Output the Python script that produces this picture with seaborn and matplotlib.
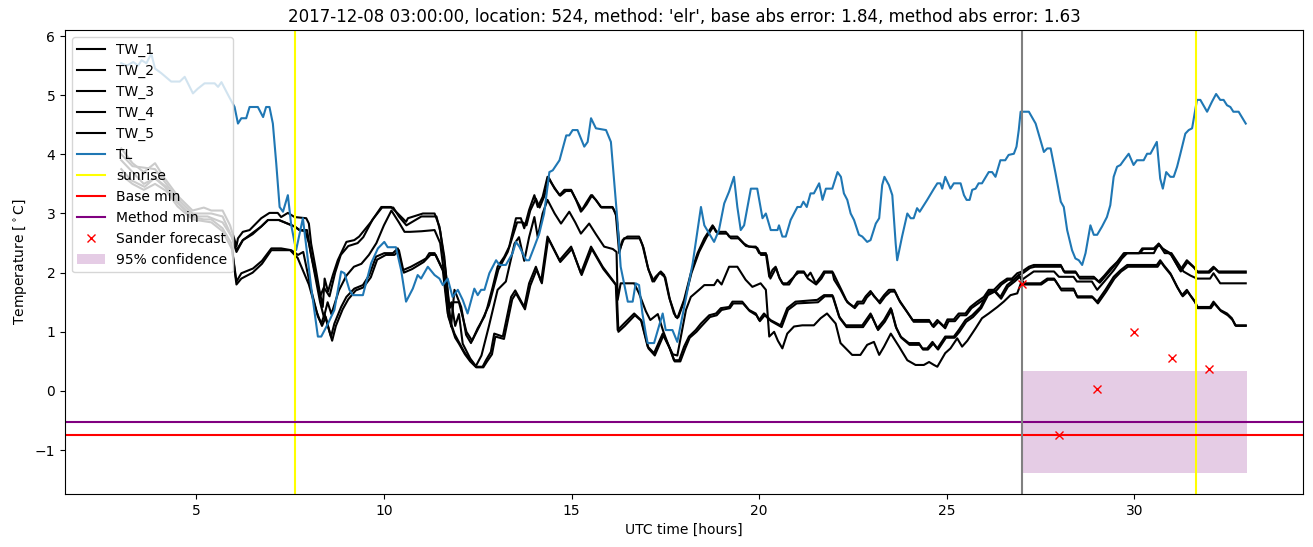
import numpy as np
import pandas as pd
import matplotlib
matplotlib.use("Agg")
import matplotlib.pyplot as plt
import seaborn as sns

TITLE = "2017-12-08 03:00:00, location: 524, method: 'elr', base abs error: 1.84, method abs error: 1.63"

# ---- TL (air temperature) ----
tl_x = [3.0, 3.15, 3.32, 3.45, 3.54, 3.67, 3.80, 3.9, 4.07, 4.2, 4.33, 4.56, 4.69, 4.91, 5.04, 5.22, 5.49, 5.58, 5.67, 5.85,
        6.02, 6.11, 6.20, 6.33, 6.42, 6.64, 6.78, 6.86, 6.95, 7.04, 7.13, 7.22, 7.31, 7.44, 7.53, 7.66, 7.84, 7.93, 8.06, 8.24,
        8.33, 8.51, 8.68, 8.86, 8.95, 9.08, 9.17, 9.44, 9.66, 9.84, 10.01, 10.10, 10.32, 10.46, 10.59, 10.77, 10.90, 10.99, 11.17, 11.35,
        11.48, 11.57, 11.70, 11.83, 11.97, 12.10, 12.23, 12.41, 12.50, 12.59, 12.68, 12.81, 12.99, 13.08, 13.25, 13.43, 13.52, 13.61, 13.79, 13.87,
        14.01, 14.14, 14.27, 14.41, 14.50, 14.68, 14.86, 14.94, 15.03, 15.16, 15.34, 15.43, 15.52, 15.65, 15.92, 16.05, 16.23, 16.31, 16.50, 16.63,
        16.71, 16.80, 16.89, 16.98, 17.03, 17.20, 17.43, 17.51, 17.69, 17.82, 18.05, 18.23, 18.45, 18.54, 18.67, 18.80, 18.93, 19.07, 19.20, 19.33,
        19.42, 19.51, 19.60, 19.78, 19.95, 20.09, 20.18, 20.31, 20.49, 20.53, 20.62, 20.71, 20.84, 21.02, 21.11, 21.18, 21.27, 21.37, 21.46, 21.60,
        21.69, 21.78, 21.95, 22.09, 22.18, 22.26, 22.35, 22.44, 22.53, 22.66, 22.75, 22.88, 22.97, 23.11, 23.20, 23.28, 23.34, 23.46, 23.55, 23.64,
        23.68, 23.81, 23.95, 24.04, 24.12, 24.21, 24.28, 24.48, 24.66, 24.75, 24.83, 24.88, 24.96, 25.10, 25.19, 25.37, 25.46, 25.53, 25.61, 25.68,
        25.77, 25.85, 25.94, 26.12, 26.21, 26.30, 26.43, 26.56, 26.65, 26.79, 26.86, 26.92, 26.97, 27.19, 27.37, 27.50, 27.59, 27.68, 27.77, 27.90,
        28.04, 28.12, 28.21, 28.34, 28.43, 28.52, 28.61, 28.70, 28.83, 28.92, 29.01, 29.14, 29.27, 29.36, 29.45, 29.54, 29.63, 29.72, 29.85, 29.98,
        30.07, 30.25, 30.34, 30.43, 30.60, 30.69, 30.76, 30.85, 30.96, 31.05, 31.14, 31.22, 31.36, 31.45, 31.54, 31.67, 31.76, 31.94, 32.07, 32.18,
        32.29, 32.38, 32.47, 32.56, 32.64, 32.78, 32.97]
tl_y = [5.54, 5.50, 5.56, 5.50, 5.59, 5.54, 5.70, 5.45, 5.37, 5.30, 5.23, 5.23, 5.31, 5.03, 5.11, 5.20, 5.20, 5.14, 5.22, 5.00,
        4.80, 4.52, 4.61, 4.61, 4.80, 4.80, 4.63, 4.80, 4.80, 4.52, 3.85, 3.11, 3.03, 3.31, 2.80, 2.38, 2.92, 2.44, 1.76, 0.92,
        0.92, 1.14, 1.37, 2.02, 1.99, 1.71, 1.62, 1.62, 2.16, 2.41, 2.52, 2.43, 2.43, 2.04, 1.51, 1.73, 1.96, 1.90, 2.10, 1.96,
        1.90, 1.79, 1.90, 1.59, 1.71, 1.54, 1.31, 1.73, 1.62, 1.71, 1.71, 1.99, 2.21, 2.13, 2.13, 2.33, 2.52, 2.44, 2.21, 2.21,
        2.44, 2.66, 3.00, 3.70, 3.73, 3.90, 4.32, 4.32, 4.41, 4.41, 4.13, 4.21, 4.61, 4.44, 4.41, 4.21, 2.83, 2.10, 1.51, 1.51,
        1.82, 1.79, 1.31, 0.97, 0.81, 0.81, 1.31, 1.03, 1.03, 0.83, 1.57, 2.16, 3.11, 2.80, 2.66, 2.52, 2.72, 3.17, 3.37, 3.62,
        3.11, 2.72, 2.80, 3.42, 3.42, 2.92, 3.00, 2.72, 2.72, 2.80, 2.61, 2.61, 2.89, 3.11, 3.11, 3.20, 3.11, 3.34, 3.34, 3.51,
        3.23, 3.42, 3.42, 3.70, 3.62, 3.34, 3.23, 3.00, 2.89, 2.64, 2.61, 2.52, 2.55, 2.83, 2.92, 3.48, 3.62, 3.48, 3.31, 2.49,
        2.21, 2.61, 3.00, 2.92, 2.92, 3.09, 3.03, 3.23, 3.42, 3.51, 3.51, 3.42, 3.62, 3.42, 3.51, 3.51, 3.31, 3.23, 3.23, 3.40,
        3.42, 3.51, 3.51, 3.70, 3.70, 3.62, 3.90, 3.90, 3.99, 4.01, 4.13, 4.41, 4.72, 4.72, 4.52, 4.24, 4.04, 4.10, 4.10, 3.68,
        3.20, 3.11, 2.72, 2.38, 2.24, 2.21, 2.13, 2.33, 2.80, 2.64, 2.64, 2.78, 2.94, 3.14, 3.62, 3.79, 3.82, 3.90, 4.01, 3.82,
        3.90, 3.90, 4.01, 4.01, 4.21, 3.59, 3.42, 3.70, 3.62, 3.62, 3.79, 3.99, 4.35, 4.41, 4.44, 4.92, 4.92, 4.72, 4.89, 5.02,
        4.92, 4.92, 4.83, 4.80, 4.72, 4.72, 4.52]

# ---- TW_1 ----
tw1_x = [3.0, 3.3, 3.6, 3.9, 4.15, 4.5, 4.9, 5.2, 5.4, 5.7, 5.9, 6.07, 6.11, 6.24, 6.42, 6.73, 6.95, 7.17, 7.26, 7.44,
         7.62, 7.93, 8.0, 8.06, 8.19, 8.28, 8.37, 8.42, 8.51, 8.64, 8.77, 9.0, 9.21, 9.34, 9.66, 9.93, 10.19, 10.37, 10.59, 10.64,
         11.04, 11.35, 11.48, 11.61, 11.70, 11.79, 11.88, 12.06, 12.19, 12.32, 12.50, 12.68, 12.76, 12.90, 13.03, 13.21, 13.34, 13.52, 13.65, 13.74,
         13.87, 14.01, 14.10, 14.23, 14.36, 14.50, 14.68, 14.81, 14.99, 15.12, 15.25, 15.38, 15.52, 15.65, 15.78, 16.09, 16.18, 16.27, 16.36, 16.49,
         16.80, 16.89, 17.03, 17.16, 17.24, 17.38, 17.47, 17.60, 17.73, 17.82, 18.0, 18.18, 18.36, 18.54, 18.76, 18.85, 19.11, 19.20, 19.42, 19.60,
         19.73, 19.91, 20.0, 20.18, 20.27, 20.36, 20.44, 20.53, 20.62, 20.75, 20.93, 21.02, 21.19, 21.28, 21.37, 21.51, 21.64, 21.73, 21.95, 22.0,
         22.17, 22.31, 22.40, 22.53, 22.62, 22.75, 22.84, 22.97, 23.06, 23.20, 23.33, 23.46, 23.60, 23.73, 23.91, 24.09, 24.53, 24.62, 24.75, 24.93,
         25.02, 25.19, 25.32, 25.50, 25.63, 25.81, 25.99, 26.12, 26.26, 26.43, 26.61, 26.74, 26.88, 27.01, 27.19, 27.32, 28.04, 28.12, 28.43, 28.52,
         28.92, 29.05, 29.2, 29.36, 29.54, 29.72, 30.12, 30.21, 30.52, 30.65, 30.74, 30.96, 31.22, 31.40, 31.58, 31.67, 31.98, 32.11, 32.24, 32.97]
tw1_y = [4.10, 3.85, 3.70, 3.85, 3.60, 3.30, 3.05, 3.10, 3.05, 3.05, 2.80, 2.45, 2.58, 2.69, 2.72, 2.92, 3.01, 3.01, 2.94, 3.01,
         2.94, 2.92, 2.83, 2.49, 2.04, 1.71, 1.42, 1.90, 1.68, 1.96, 2.21, 2.52, 2.55, 2.61, 2.86, 3.11, 3.11, 3.00, 2.86, 2.92,
         3.00, 3.00, 2.78, 2.27, 1.65, 1.09, 1.71, 1.42, 0.95, 0.81, 1.06, 1.26, 1.42, 1.76, 2.10, 2.27, 2.44, 2.92, 2.92, 2.75,
         3.06, 3.31, 3.11, 3.28, 3.62, 3.48, 3.31, 3.40, 3.40, 3.23, 3.03, 3.17, 3.31, 3.23, 3.11, 3.11, 3.00, 2.33, 2.55, 2.61,
         2.61, 2.47, 2.10, 1.85, 1.93, 2.02, 1.96, 1.59, 1.31, 1.23, 1.54, 1.99, 2.33, 2.58, 2.80, 2.69, 2.69, 2.61, 2.61, 2.49,
         2.44, 2.44, 2.33, 2.33, 1.93, 2.05, 2.10, 1.93, 1.82, 1.82, 1.93, 2.02, 2.02, 1.93, 2.00, 1.82, 1.93, 2.02, 2.02, 1.88,
         1.71, 1.54, 1.48, 1.42, 1.51, 1.51, 1.60, 1.69, 1.60, 1.51, 1.62, 1.71, 1.71, 1.54, 1.37, 1.20, 1.20, 1.10, 1.20, 1.09,
         1.21, 1.21, 1.31, 1.31, 1.42, 1.51, 1.59, 1.71, 1.71, 1.82, 1.90, 1.90, 1.99, 2.02, 2.10, 2.13, 2.13, 2.02, 2.02, 1.93,
         1.93, 1.85, 1.95, 2.07, 2.18, 2.33, 2.33, 2.41, 2.41, 2.49, 2.41, 2.33, 2.04, 2.21, 2.10, 2.02, 2.02, 2.10, 2.02, 2.02]

# ---- TW_2 ----
tw2_x = [3.0, 3.3, 3.9, 4.5, 4.9, 5.4, 5.7, 5.95, 6.07, 6.24, 6.73, 6.91, 7.2, 7.62, 7.75, 7.95, 8.06, 8.2, 8.3, 8.4,
         8.55, 8.7, 8.85, 9.05, 9.3, 9.45, 9.7, 9.95, 10.25, 10.4, 10.6, 11.0, 11.4, 11.5, 11.65, 11.75, 11.85, 12.0, 12.2, 12.35,
         12.55, 12.8, 13.05, 13.3, 13.55, 13.7, 13.8, 13.9, 14.05, 14.15, 14.28, 14.4, 14.55, 14.7, 14.85, 15.0, 15.15, 15.28, 15.4, 15.55,
         15.68, 15.8, 16.1, 16.2, 16.29, 16.4, 16.5, 16.82, 16.92, 17.05, 17.2, 17.35, 17.5, 17.62, 17.78, 17.85, 18.02, 18.2, 18.4, 18.6,
         18.78, 18.9, 19.15, 19.25, 19.45, 19.65, 19.95, 20.05, 20.2, 20.3, 20.45, 20.55, 20.65, 20.8, 20.95, 21.05, 21.2, 21.3, 21.52, 21.66,
         21.75, 21.97, 22.2, 22.35, 22.55, 22.65, 22.78, 22.87, 23.0, 23.1, 23.22, 23.36, 23.5, 23.62, 23.76, 23.95, 24.12, 24.55, 24.65, 24.78,
         24.96, 25.05, 25.22, 25.35, 25.52, 25.66, 25.84, 26.02, 26.15, 26.3, 26.46, 26.64, 26.78, 26.92, 27.05, 27.22, 27.35, 28.06, 28.15, 28.45,
         28.55, 28.95, 29.08, 29.38, 29.58, 29.75, 30.15, 30.24, 30.55, 30.67, 30.77, 30.98, 31.24, 31.42, 31.6, 31.7, 32.0, 32.13, 32.26, 32.97]
tw2_y = [4.00, 3.80, 3.75, 3.25, 3.00, 3.00, 2.95, 2.60, 2.38, 2.55, 2.78, 2.89, 2.89, 2.78, 2.72, 2.72, 2.30, 1.90, 1.60, 1.75,
         1.60, 2.00, 2.30, 2.45, 2.50, 2.60, 2.90, 3.10, 3.10, 2.95, 2.80, 2.95, 2.95, 2.70, 2.00, 1.40, 1.50, 1.50, 1.00, 0.85,
         1.10, 1.45, 2.05, 2.35, 2.85, 2.85, 2.80, 3.05, 3.25, 3.10, 3.30, 3.60, 3.42, 3.30, 3.38, 3.38, 3.20, 3.05, 3.15, 3.31,
         3.20, 3.10, 3.10, 2.95, 2.40, 2.58, 2.58, 2.58, 2.42, 2.05, 1.85, 2.00, 1.92, 1.55, 1.25, 1.25, 1.55, 2.00, 2.35, 2.60,
         2.78, 2.66, 2.66, 2.58, 2.58, 2.45, 2.42, 2.30, 2.30, 1.90, 2.08, 1.90, 1.80, 1.80, 1.95, 2.00, 2.00, 1.90, 1.80, 1.90,
         2.00, 2.00, 1.70, 1.50, 1.40, 1.48, 1.48, 1.58, 1.66, 1.58, 1.48, 1.60, 1.68, 1.68, 1.50, 1.33, 1.17, 1.17, 1.08, 1.17,
         1.06, 1.18, 1.18, 1.28, 1.28, 1.40, 1.48, 1.56, 1.68, 1.68, 1.80, 1.88, 1.88, 1.96, 2.00, 2.08, 2.10, 2.10, 2.00, 2.00,
         1.90, 1.90, 1.83, 2.05, 2.20, 2.33, 2.33, 2.40, 2.40, 2.47, 2.40, 2.30, 2.02, 2.18, 2.08, 2.00, 2.00, 2.08, 2.00, 2.00]

# ---- TW_3 ----
tw3_x = [3.0, 3.3, 3.6, 3.9, 4.2, 4.5, 4.9, 5.3, 5.7, 5.95, 6.07, 6.24, 6.5, 6.73, 6.91, 7.2, 7.62, 7.75, 7.9, 8.0,
         8.15, 8.3, 8.4, 8.5, 8.6, 8.8, 9.0, 9.2, 9.4, 9.6, 9.8, 10.0, 10.2, 10.4, 10.55, 10.7, 11.0, 11.35, 11.5, 11.6,
         11.7, 11.8, 11.9, 12.0, 12.1, 12.3, 12.45, 12.6, 12.8, 13.03, 13.25, 13.48, 13.6, 13.74, 13.87, 14.01, 14.1, 14.23, 14.36, 14.55,
         14.72, 14.94, 15.1, 15.25, 15.47, 15.65, 15.87, 16.1, 16.2, 16.23, 16.31, 16.67, 16.8, 16.98, 17.1, 17.3, 17.45, 17.6, 17.7, 17.82,
         18.05, 18.18, 18.40, 18.54, 18.80, 18.89, 19.0, 19.20, 19.42, 19.64, 19.82, 20.04, 20.18, 20.27, 20.40, 20.5, 20.62, 20.75, 20.93, 21.15,
         21.46, 21.64, 21.81, 22.04, 22.17, 22.31, 22.48, 22.70, 22.88, 23.06, 23.20, 23.33, 23.51, 23.73, 23.95, 24.17, 24.39, 24.53, 24.66, 24.75,
         24.96, 25.10, 25.28, 25.41, 25.55, 25.77, 25.94, 26.12, 26.35, 26.52, 26.70, 26.88, 27.01, 27.05, 27.32, 27.86, 27.99, 28.38, 28.47, 28.87,
         29.01, 29.2, 29.45, 29.67, 29.81, 30.52, 30.65, 30.81, 30.99, 31.31, 31.5, 31.67, 32.02, 32.11, 32.29, 32.97]
tw3_y = [3.90, 3.70, 3.50, 3.60, 3.45, 3.20, 2.95, 2.95, 2.85, 2.60, 2.35, 2.55, 2.65, 2.78, 2.89, 2.89, 2.78, 2.72, 2.70, 2.50,
         2.00, 1.50, 1.25, 1.50, 1.30, 1.70, 1.95, 2.10, 2.15, 2.30, 2.50, 2.80, 3.05, 2.85, 2.69, 2.69, 2.70, 2.72, 2.50, 2.00,
         1.40, 1.50, 1.10, 1.30, 0.80, 0.55, 0.42, 0.60, 1.10, 1.71, 1.85, 2.49, 2.60, 2.20, 2.60, 2.94, 2.60, 3.00, 3.23, 3.00,
         2.83, 3.03, 2.85, 2.66, 2.83, 2.65, 2.44, 2.40, 2.35, 1.54, 1.82, 1.82, 1.65, 1.35, 1.20, 1.30, 1.00, 0.75, 0.62, 0.60,
         1.37, 1.59, 1.71, 1.79, 1.79, 1.88, 1.80, 2.10, 2.10, 1.88, 1.76, 1.82, 1.71, 0.92, 1.00, 0.85, 0.72, 0.97, 1.09, 1.11,
         1.11, 1.23, 1.31, 1.14, 0.81, 0.72, 0.61, 0.61, 0.78, 0.83, 0.61, 0.75, 0.97, 0.75, 0.52, 0.44, 0.44, 0.49, 0.44, 0.41,
         0.64, 0.72, 0.89, 0.75, 0.85, 1.06, 1.23, 1.31, 1.42, 1.51, 1.62, 1.65, 1.88, 1.90, 2.02, 2.02, 1.93, 1.93, 1.85, 1.85,
         1.71, 1.85, 2.04, 2.24, 2.33, 2.33, 2.49, 2.33, 2.33, 2.02, 1.95, 1.90, 1.90, 1.99, 1.82, 1.82]

# ---- TW_4 ----
tw4_x = [3.0, 3.27, 3.62, 3.89, 4.16, 4.51, 4.87, 5.2, 5.4, 5.7, 5.93, 6.07, 6.20, 6.51, 6.75, 7.0, 7.26, 7.53, 7.71, 7.85,
         8.06, 8.24, 8.33, 8.42, 8.51, 8.59, 8.68, 8.86, 9.0, 9.21, 9.44, 9.61, 9.79, 10.01, 10.24, 10.37, 10.50, 10.72, 11.04, 11.12,
         11.21, 11.35, 11.44, 11.57, 11.70, 11.88, 11.97, 12.14, 12.23, 12.32, 12.46, 12.63, 12.72, 12.85, 12.94, 13.17, 13.39, 13.5, 13.74, 13.87,
         14.05, 14.19, 14.36, 14.68, 14.99, 15.25, 15.52, 15.83, 16.09, 16.18, 16.23, 16.40, 16.67, 16.85, 17.03, 17.20, 17.43, 17.60, 17.73, 17.87,
         18.0, 18.13, 18.31, 18.45, 18.67, 18.85, 18.98, 19.20, 19.29, 19.55, 19.73, 19.91, 20.0, 20.13, 20.3, 20.57, 20.75, 20.97, 21.55, 21.73,
         21.95, 22.13, 22.31, 22.53, 22.75, 22.97, 23.15, 23.33, 23.51, 23.64, 23.77, 23.99, 24.26, 24.35, 24.48, 24.62, 24.75, 24.96, 25.19, 25.32,
         25.50, 25.68, 25.90, 26.08, 26.26, 26.43, 26.61, 26.79, 26.92, 27.05, 27.50, 27.68, 27.86, 28.04, 28.38, 28.47, 28.87, 29.01, 29.23, 29.45,
         29.63, 29.81, 30.60, 30.69, 30.78, 30.96, 31.14, 31.27, 31.40, 31.49, 31.62, 31.67, 32.02, 32.11, 32.29, 32.47, 32.60, 32.69, 32.97]
tw4_y = [3.75, 3.56, 3.45, 3.60, 3.45, 3.17, 2.94, 2.90, 2.90, 2.75, 2.50, 1.85, 1.99, 2.07, 2.20, 2.41, 2.41, 2.38, 2.30, 2.35,
         1.71, 1.26, 1.14, 1.30, 1.09, 0.92, 1.14, 1.42, 1.59, 1.73, 1.79, 1.96, 2.27, 2.33, 2.33, 2.41, 2.04, 2.10, 2.21, 2.24,
         2.33, 2.33, 2.21, 2.04, 1.31, 0.97, 0.86, 0.66, 0.58, 0.52, 0.41, 0.41, 0.52, 0.66, 0.97, 0.92, 1.59, 1.70, 1.42, 1.82,
         2.10, 1.85, 2.61, 2.21, 2.44, 1.99, 2.44, 2.10, 1.88, 1.80, 1.03, 1.14, 1.31, 1.20, 0.75, 0.64, 0.97, 0.75, 0.52, 0.52,
         0.75, 0.92, 1.03, 1.14, 1.28, 1.31, 1.40, 1.42, 1.51, 1.51, 1.37, 1.31, 1.20, 1.31, 1.20, 1.11, 1.40, 1.51, 1.54, 1.62,
         1.62, 1.26, 1.11, 1.11, 1.11, 1.31, 1.06, 1.20, 1.40, 1.09, 0.92, 0.81, 0.81, 0.72, 0.72, 0.83, 0.72, 0.92, 0.92, 1.03,
         1.20, 1.28, 1.42, 1.65, 1.71, 1.59, 1.79, 1.88, 1.96, 1.82, 1.82, 1.90, 1.90, 1.73, 1.73, 1.60, 1.60, 1.51, 1.71, 1.93,
         2.04, 2.13, 2.13, 2.21, 2.13, 1.99, 1.76, 1.62, 1.71, 1.62, 1.51, 1.42, 1.42, 1.51, 1.37, 1.31, 1.23, 1.11, 1.11]

# ---- TW_5 ----
tw5_x = [3.0, 3.3, 3.6, 3.9, 4.2, 4.5, 4.9, 5.4, 5.7, 5.95, 6.07, 6.2, 6.5, 6.75, 7.0, 7.5, 7.7, 8.0, 8.2, 8.35,
         8.45, 8.55, 8.62, 8.72, 8.9, 9.05, 9.25, 9.45, 9.65, 9.82, 10.05, 10.28, 10.4, 10.53, 10.75, 11.06, 11.24, 11.38, 11.47, 11.6,
         11.72, 11.9, 12.0, 12.16, 12.3, 12.46, 12.65, 12.75, 12.88, 12.97, 13.2, 13.42, 13.52, 13.76, 13.9, 14.07, 14.21, 14.38, 14.7, 15.01,
         15.27, 15.54, 15.85, 16.11, 16.2, 16.25, 16.42, 16.69, 16.87, 17.05, 17.22, 17.45, 17.62, 17.75, 17.9, 18.03, 18.15, 18.33, 18.47, 18.69,
         18.87, 19.0, 19.22, 19.31, 19.57, 19.75, 19.93, 20.02, 20.15, 20.32, 20.6, 20.77, 21.0, 21.57, 21.75, 21.97, 22.15, 22.33, 22.77, 22.99,
         23.17, 23.35, 23.53, 23.66, 23.79, 24.01, 24.28, 24.37, 24.5, 24.64, 24.77, 24.98, 25.21, 25.34, 25.52, 25.7, 25.92, 26.1, 26.28, 26.45,
         26.63, 26.81, 26.95, 27.07, 27.52, 27.7, 27.88, 28.06, 28.4, 28.49, 28.89, 29.03, 29.25, 29.47, 29.65, 29.83, 30.62, 30.71, 30.8, 30.98,
         31.16, 31.29, 31.42, 31.51, 31.64, 31.69, 32.04, 32.13, 32.31, 32.49, 32.62, 32.71, 32.97]
tw5_y = [3.65, 3.50, 3.40, 3.50, 3.38, 3.12, 2.90, 2.85, 2.70, 2.40, 1.80, 1.90, 2.00, 2.15, 2.38, 2.38, 2.25, 1.80, 1.35, 1.10,
         1.25, 1.00, 0.85, 1.10, 1.38, 1.55, 1.70, 1.75, 1.92, 2.22, 2.30, 2.30, 2.38, 2.00, 2.06, 2.18, 2.30, 2.30, 2.18, 2.00,
         1.25, 0.90, 0.80, 0.62, 0.50, 0.40, 0.40, 0.50, 0.62, 0.92, 0.88, 1.55, 1.65, 1.38, 1.78, 2.05, 1.82, 2.58, 2.18, 2.40,
         1.96, 2.40, 2.06, 1.85, 1.78, 1.00, 1.10, 1.28, 1.18, 0.72, 0.60, 0.94, 0.72, 0.50, 0.50, 0.72, 0.90, 1.00, 1.10, 1.25,
         1.28, 1.37, 1.40, 1.48, 1.48, 1.35, 1.28, 1.18, 1.28, 1.18, 1.08, 1.37, 1.48, 1.50, 1.60, 1.60, 1.23, 1.08, 1.08, 1.28,
         1.03, 1.17, 1.37, 1.06, 0.90, 0.78, 0.78, 0.70, 0.70, 0.80, 0.70, 0.90, 0.90, 1.00, 1.17, 1.25, 1.40, 1.62, 1.68, 1.56,
         1.76, 1.85, 1.93, 1.80, 1.80, 1.88, 1.88, 1.70, 1.70, 1.58, 1.58, 1.48, 1.68, 1.90, 2.02, 2.10, 2.10, 2.18, 2.10, 1.96,
         1.74, 1.60, 1.68, 1.60, 1.48, 1.40, 1.40, 1.48, 1.35, 1.28, 1.20, 1.10, 1.10]

# ---- reference lines & forecast ----
sunrise_hours = [7.64, 31.65]
forecast_start = 27.0
base_min = -0.74
method_min = -0.52
sander_x = [27, 28, 29, 30, 31, 32]
sander_y = [1.80, -0.75, 0.03, 1.00, 0.56, 0.37]
conf_x = [27.0, 33.0]
conf_low = -1.38
conf_high = 0.34

tw_series = [("TW_1", tw1_x, tw1_y), ("TW_2", tw2_x, tw2_y), ("TW_3", tw3_x, tw3_y),
             ("TW_4", tw4_x, tw4_y), ("TW_5", tw5_x, tw5_y)]

fig = plt.figure(figsize=(13.13, 5.47), dpi=100)
ax = fig.add_axes([0.0495, 0.097, 0.943, 0.848])

for name, xs, ys in tw_series:
    df = pd.DataFrame({"x": xs, "y": ys})
    sns.lineplot(data=df, x="x", y="y", color="black", label=name, ax=ax,
                 estimator=None, sort=False, linewidth=1.5)

df_tl = pd.DataFrame({"x": tl_x, "y": tl_y})
sns.lineplot(data=df_tl, x="x", y="y", color="#1f77b4", label="TL", ax=ax,
             estimator=None, sort=False, linewidth=1.5)

ax.axvline(sunrise_hours[0], color="yellow", label="sunrise", linewidth=1.5)
ax.axvline(sunrise_hours[1], color="yellow", linewidth=1.5)
ax.axhline(base_min, color="red", label="Base min", linewidth=1.5)
ax.axhline(method_min, color="purple", label="Method min", linewidth=1.5)
ax.axvline(forecast_start, color="gray", linewidth=1.5)
ax.plot(sander_x, sander_y, "x", color="red", label="Sander forecast")
ax.fill_between(conf_x, [conf_low, conf_low], [conf_high, conf_high], color="purple",
                alpha=0.2, linewidth=0, label="95% confidence")

ax.set_xlim(1.5, 34.5)
ax.set_ylim(-1.74, 6.1)
ax.set_xticks([5, 10, 15, 20, 25, 30])
ax.set_xlabel("UTC time [hours]")
ax.set_ylabel("Temperature [$^\\circ$C]")
ax.set_title(TITLE)
ax.legend(loc="upper left")

fig.savefig("out.png", dpi=100)
